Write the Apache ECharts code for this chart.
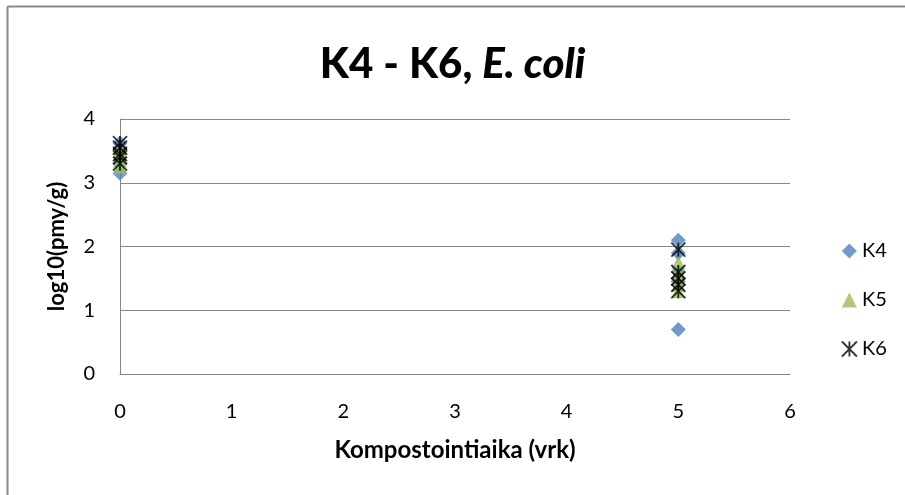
<!DOCTYPE html>
<html><head><meta charset="utf-8">
<script src="https://cdn.jsdelivr.net/npm/echarts@6/dist/echarts.min.js"></script>
<style>html,body{margin:0;padding:0;background:#fff;overflow:hidden}#c{width:905px;height:495px}</style>
</head><body><div id="c"></div>
<script>
const xTicks = [0,1,2,3,4,5,6];
const yTicks = [0,1,2,3,4];
const k4 = [[0,3.15],[0,3.3],[0,3.45],[0,3.55],[0,3.62],[5,2.1],[5,1.9],[5,1.6],[5,1.45],[5,0.7]];
const k5 = [[0,3.25],[0,3.35],[0,3.45],[0,3.5],[0,3.55],[5,1.75],[5,1.6],[5,1.5],[5,1.4],[5,1.3]];
const k6 = [[0,3.3],[0,3.4],[0,3.45],[0,3.55],[0,3.62],[5,1.95],[5,1.6],[5,1.5],[5,1.4],[5,1.3]];
const seriesNames = ['K4','K5','K6'];

const font = 'Lato, "Open Sans", sans-serif';
const starPath = 'path://M0,0L10,10M10,0L0,10M5,0L5,10';
const chart = echarts.init(document.getElementById('c'), null, {renderer:'canvas'});
chart.setOption({
  animation:false,
  backgroundColor:'#fff',
  graphic:[
    {type:'line',shape:{x1:7.5,y1:6.5,x2:1200,y2:6.5},style:{stroke:'#898989',lineWidth:2}},
    {type:'line',shape:{x1:7.5,y1:6.5,x2:7.5,y2:900},style:{stroke:'#898989',lineWidth:2}}
  ],
  title:{
    text:'{b|K4 - K6, }{i|E. coli}',
    left:'center', top:38,
    textStyle:{rich:{
      b:{fontFamily:font,fontWeight:900,fontSize:42,color:'#000'},
      i:{fontFamily:font,fontWeight:900,fontStyle:'italic',fontSize:42,color:'#000'}
    }}
  },
  legend:{
    orient:'vertical', left:836, top:236, itemGap:29,
    itemWidth:15, itemHeight:15,
    textStyle:{fontFamily:font,fontSize:20,color:'#000'},
    data:[
      {name:'K4',icon:'diamond'},
      {name:'K5',icon:'triangle'},
      {name:'K6',icon:starPath,itemStyle:{color:'transparent',borderColor:'#000',borderWidth:1.8}}
    ]
  },
  grid:{left:120,right:115,top:119,bottom:121},
  xAxis:{
    type:'value',min:0,max:6,interval:1,
    name:'Kompostointiaika (vrk)',nameLocation:'middle',nameGap:64,
    nameTextStyle:{fontFamily:font,fontWeight:'bold',fontSize:24,color:'#000'},
    axisLine:{show:true,lineStyle:{color:'#868686',width:1}},
    axisTick:{show:false},
    splitLine:{show:false},
    axisLabel:{fontFamily:font,fontSize:20,color:'#000',margin:28,formatter:v=>xTicks.includes(v)?String(v):''}
  },
  yAxis:{
    type:'value',min:0,max:4,interval:1,
    name:'log10(pmy/g)',nameLocation:'middle',nameGap:52,
    nameTextStyle:{fontFamily:font,fontWeight:'bold',fontSize:22,color:'#000'},
    axisLine:{show:true,lineStyle:{color:'#868686',width:1}},
    axisTick:{show:false},
    splitLine:{show:true,lineStyle:{color:'#868686',width:1}},
    axisLabel:{fontFamily:font,fontSize:20,color:'#000',margin:25,formatter:v=>yTicks.includes(v)?String(v):''}
  },
  series:[
    {name:seriesNames[0],type:'scatter',data:k4,symbol:'diamond',symbolSize:15,itemStyle:{color:'#4F81BD'}},
    {name:seriesNames[1],type:'scatter',data:k5,symbol:'triangle',symbolSize:14,itemStyle:{color:'#9BBB59'}},
    {name:seriesNames[2],type:'scatter',data:k6,symbol:starPath,symbolSize:14,itemStyle:{color:'transparent',borderColor:'#000',borderWidth:1.8}}
  ]
});
</script></body></html>
